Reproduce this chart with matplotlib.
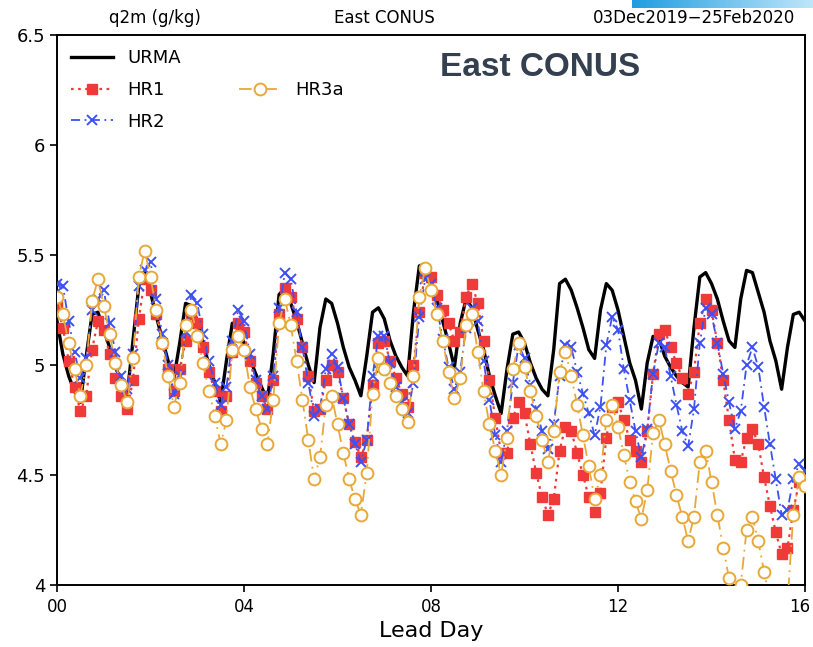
import numpy as np
import matplotlib
matplotlib.use("Agg")
import matplotlib.pyplot as plt
from matplotlib.lines import Line2D
from matplotlib.colors import LinearSegmentedColormap
from matplotlib.transforms import ScaledTranslation

# ---- data (3-hourly lead times, 0..16 days) ----
lead_hours = list(range(0, 385, 3))

urma = [5.20, 5.05, 4.95, 4.88, 4.83, 5.04, 5.23, 5.24,
        5.16, 5.08, 4.99, 4.93, 4.86, 5.11, 5.36, 5.42,
        5.33, 5.22, 5.12, 5.02, 4.94, 5.10, 5.28, 5.27,
        5.20, 5.10, 5.00, 4.92, 4.83, 5.02, 5.19, 5.17,
        5.10, 5.03, 4.96, 4.90, 4.84, 5.05, 5.32, 5.35,
        5.28, 5.20, 5.10, 5.00, 4.92, 5.17, 5.30, 5.28,
        5.19, 5.08, 4.99, 4.93, 4.86, 5.04, 5.24, 5.26,
        5.21, 5.11, 5.04, 4.99, 4.95, 5.24, 5.45, 5.46,
        5.38, 5.30, 5.20, 5.10, 4.99, 5.19, 5.30, 5.26,
        5.16, 5.07, 4.95, 4.86, 4.78, 4.98, 5.14, 5.15,
        5.10, 5.01, 4.94, 4.89, 4.86, 5.07, 5.37, 5.39,
        5.34, 5.26, 5.17, 5.07, 5.03, 5.25, 5.37, 5.34,
        5.25, 5.13, 5.01, 4.93, 4.80, 5.01, 5.13, 5.12,
        5.04, 4.99, 4.95, 4.92, 4.90, 5.17, 5.40, 5.42,
        5.37, 5.30, 5.20, 5.11, 5.08, 5.30, 5.43, 5.42,
        5.33, 5.24, 5.11, 5.02, 4.89, 5.08, 5.23, 5.24,
        5.20]

hr1 = [5.27, 5.17, 5.02, 4.90, 4.79, 4.86, 5.07, 5.20,
       5.16, 5.05, 4.94, 4.86, 4.80, 4.93, 5.21, 5.39,
       5.34, 5.23, 5.10, 4.98, 4.88, 4.98, 5.11, 5.23,
       5.19, 5.08, 4.97, 4.88, 4.79, 4.86, 5.06, 5.19,
       5.15, 5.02, 4.92, 4.86, 4.80, 4.93, 5.23, 5.35,
       5.31, 5.21, 5.08, 4.95, 4.79, 4.80, 4.93, 5.00,
       4.97, 4.85, 4.73, 4.65, 4.58, 4.66, 4.91, 5.10,
       5.11, 5.02, 4.94, 4.87, 4.81, 5.00, 5.24, 5.42,
       5.40, 5.32, 5.25, 5.19, 5.11, 5.15, 5.31, 5.37,
       5.28, 5.11, 4.93, 4.76, 4.60, 4.60, 4.76, 4.83,
       4.78, 4.64, 4.51, 4.40, 4.32, 4.39, 4.61, 4.72,
       4.70, 4.60, 4.50, 4.40, 4.33, 4.42, 4.67, 4.81,
       4.83, 4.75, 4.66, 4.61, 4.56, 4.70, 4.96, 5.14,
       5.16, 5.08, 5.01, 4.94, 4.87, 4.97, 5.19, 5.30,
       5.25, 5.10, 4.93, 4.75, 4.57, 4.56, 4.67, 4.71,
       4.64, 4.49, 4.36, 4.24, 4.14, 4.17, 4.34, 4.47,
       4.46]

hr2 = [5.37, 5.36, 5.20, 5.06, 4.94, 5.03, 5.25, 5.30,
       5.34, 5.19, 5.06, 4.95, 4.89, 5.05, 5.36, 5.43,
       5.47, 5.30, 5.14, 5.00, 4.87, 4.95, 5.15, 5.32,
       5.28, 5.14, 5.02, 4.92, 4.82, 4.90, 5.11, 5.25,
       5.20, 5.05, 4.93, 4.86, 4.80, 4.95, 5.26, 5.42,
       5.39, 5.24, 5.08, 4.92, 4.77, 4.80, 4.98, 5.05,
       4.99, 4.85, 4.73, 4.64, 4.56, 4.66, 4.95, 5.13,
       5.13, 5.01, 4.90, 4.83, 4.78, 4.92, 5.22, 5.39,
       5.37, 5.26, 5.12, 4.99, 4.89, 4.97, 5.17, 5.26,
       5.20, 5.02, 4.84, 4.68, 4.56, 4.70, 4.92, 5.09,
       5.03, 4.91, 4.80, 4.70, 4.62, 4.73, 4.95, 5.09,
       5.08, 4.97, 4.87, 4.78, 4.68, 4.81, 5.09, 5.22,
       5.16, 4.98, 4.84, 4.70, 4.58, 4.71, 4.96, 5.10,
       5.08, 4.95, 4.82, 4.70, 4.63, 4.80, 5.10, 5.26,
       5.23, 5.10, 4.96, 4.83, 4.71, 4.79, 5.00, 5.08,
       4.99, 4.81, 4.64, 4.48, 4.32, 4.34, 4.48, 4.55,
       4.52]

hr3a = [5.31, 5.23, 5.10, 4.98, 4.86, 5.00, 5.29, 5.39,
        5.27, 5.14, 5.01, 4.91, 4.83, 5.03, 5.40, 5.52,
        5.40, 5.25, 5.10, 4.95, 4.81, 4.92, 5.18, 5.25,
        5.13, 5.01, 4.88, 4.77, 4.64, 4.75, 5.07, 5.13,
        5.07, 4.90, 4.80, 4.71, 4.64, 4.84, 5.19, 5.30,
        5.18, 5.02, 4.84, 4.66, 4.48, 4.58, 4.82, 4.86,
        4.73, 4.60, 4.48, 4.39, 4.32, 4.51, 4.87, 5.03,
        4.98, 4.92, 4.86, 4.80, 4.74, 4.95, 5.31, 5.44,
        5.34, 5.23, 5.11, 4.97, 4.85, 4.94, 5.18, 5.23,
        5.06, 4.88, 4.73, 4.61, 4.50, 4.67, 4.98, 5.10,
        4.99, 4.88, 4.77, 4.66, 4.56, 4.70, 4.97, 5.06,
        4.95, 4.82, 4.68, 4.54, 4.39, 4.50, 4.75, 4.82,
        4.72, 4.59, 4.47, 4.38, 4.30, 4.43, 4.69, 4.75,
        4.64, 4.52, 4.41, 4.31, 4.20, 4.31, 4.56, 4.61,
        4.47, 4.32, 4.17, 4.03, 3.97, 4.00, 4.25, 4.31,
        4.20, 4.06, 3.93, 3.85, 3.82, 3.92, 4.32, 4.49,
        4.45]

xticks = [0, 4, 8, 12, 16]
xtick_labels = ["00", "04", "08", "12", "16"]
yticks = [4, 4.5, 5, 5.5, 6, 6.5]
ytick_labels = ["4", "4.5", "5", "5.5", "6", "6.5"]

lead_days = np.array(lead_hours) / 24.0

plt.rcParams['font.family'] = ['DejaVu Sans']

fig = plt.figure(figsize=(8.13, 6.47), dpi=100)
ax = fig.add_axes([57/813, 1-585/647, (805-57)/813, (585-35)/647])

RED = '#f03a3a'
BLUE = '#3d50f5'
ORANGE = '#e8a838'

ax.plot(lead_days, urma, color='black', lw=2.4, zorder=2, label='URMA')
ax.plot(lead_days, hr1, color=RED, lw=1.6, ls=(0, (1.2, 2.0)), marker='s',
        ms=6.5, mec=RED, mfc=RED, zorder=3, label='HR1')
ax.plot(lead_days, hr2, color=BLUE, lw=1.3, ls=(0, (5, 2.5, 1, 2.5)), marker='x',
        ms=6.5, mew=1.4, zorder=4, label='HR2')
ax.plot(lead_days, hr3a, color=ORANGE, lw=1.3, ls=(0, (7, 3, 1, 3)), marker='o',
        ms=8.5, mfc='white', mec=ORANGE, mew=1.4, zorder=5, label='HR3a')

ax.set_xlim(0, 16)
ax.set_ylim(4, 6.5)
ax.set_xticks(xticks)
ax.set_xticklabels(xtick_labels)
ax.set_yticks(yticks)
ax.set_yticklabels(ytick_labels)
ax.tick_params(axis='both', direction='out', length=5, width=1.2)
ax.tick_params(axis='y', labelsize=13)
ax.tick_params(axis='x', labelsize=12, pad=4)
for s in ax.spines.values():
    s.set_linewidth(1.4)

# keep the last x tick label inside the canvas
last = ax.get_xticklabels()[-1]
last.set_transform(last.get_transform() + ScaledTranslation(-5/100, 0, fig.dpi_scale_trans))

ax.set_xlabel("Lead Day", fontsize=16, labelpad=4)

# header texts
fig.text(155/813, 1-18/647, "q2m (g/kg)", ha='center', va='center', fontsize=12)
fig.text(384/813, 1-18/647, "East CONUS", ha='center', va='center', fontsize=12)
fig.text(795/813, 1-18/647, "03Dec2019\u221225Feb2020", ha='right', va='center', fontsize=12)

# big label
fig.text(540/813, 1-68/647, "East CONUS", ha='center', va='center', fontsize=24,
         fontweight='bold', color='#34404f', family=['Liberation Sans', 'DejaVu Sans'])

# legend (2 columns, gaps filled with blanks)
blank = Line2D([], [], color='none')
h = {l.get_label(): l for l in ax.get_lines()}
leg = ax.legend([h['URMA'], h['HR1'], h['HR2'], blank, h['HR3a'], blank],
                ['URMA', 'HR1', 'HR2', '', 'HR3a', ''],
                ncol=2, loc='upper left', bbox_to_anchor=(0.0, 1.0),
                frameon=False, fontsize=13, handlelength=2.3, handletextpad=0.8,
                columnspacing=3.2, labelspacing=0.75, borderaxespad=0.4)

# decorative gradient bar top right
gax = fig.add_axes([632/813, 1-8/647, (813-632)/813, 8/647])
grad = np.linspace(0, 1, 256).reshape(1, -1)
cmap = LinearSegmentedColormap.from_list('g', ['#1f9de0', '#bfe6fa'])
gax.imshow(grad, aspect='auto', cmap=cmap)
gax.set_axis_off()

fig.savefig("out.png", dpi=100)
